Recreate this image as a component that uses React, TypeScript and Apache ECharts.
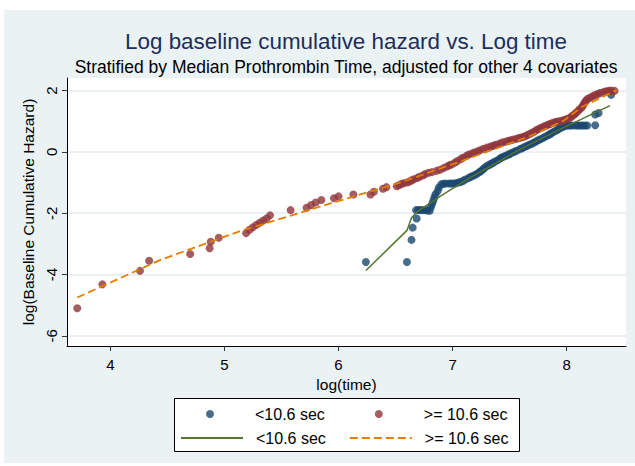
import React, { useEffect, useRef } from "react";
import * as echarts from "echarts";

const FONT = "'Liberation Sans', Arial, sans-serif";

const xTicks = [4, 5, 6, 7, 8];
const yTicks = [-6, -4, -2, 0, 2];

const titleText = "Log baseline cumulative hazard vs. Log time";
const subtitleText = "Stratified by Median Prothrombin Time, adjusted for other 4 covariates";
const xTitle = "log(time)";
const yTitle = "log(Baseline Cumulative Hazard)";

const groupLabels: Record<string, string> = {
  lt_pts: "<10.6 sec",
  ge_pts: ">= 10.6 sec",
  lt_fit: "<10.6 sec",
  ge_fit: ">= 10.6 sec",
};

// observed points, prothrombin < 10.6 sec
const ltPoints: [number, number][] = [
  [6.24, -3.59], [6.60, -3.59], [6.64, -2.87], [6.65, -2.47], [6.685, -2.17],
  [6.68, -1.90], [6.70, -1.90], [6.72, -1.90], [6.74, -1.90], [6.76, -1.90],
  [6.78, -1.91], [6.80, -1.92], [6.81, -1.80], [6.82, -1.70], [6.83, -1.60],
  [6.84, -1.49], [6.85, -1.38], [6.87, -1.27], [6.88, -1.16], [6.90, -1.06],
  [6.92, -1.04], [6.94, -1.03], [6.97, -1.03], [6.99, -1.03], [7.01, -1.03],
  [7.03, -1.02], [7.05, -1.00], [7.07, -0.98], [7.09, -0.95], [7.11, -0.90],
  [7.14, -0.85], [7.16, -0.81], [7.18, -0.78], [7.20, -0.74], [7.22, -0.70],
  [7.24, -0.65], [7.25, -0.62], [7.27, -0.56], [7.28, -0.52], [7.30, -0.46],
  [7.32, -0.43], [7.33, -0.40], [7.35, -0.37], [7.36, -0.34], [7.38, -0.30],
  [7.40, -0.26], [7.42, -0.21], [7.43, -0.18], [7.45, -0.15], [7.47, -0.12],
  [7.49, -0.09], [7.50, -0.07], [7.52, -0.03], [7.54, 0.00], [7.56, 0.04],
  [7.59, 0.09], [7.61, 0.12], [7.63, 0.16], [7.65, 0.19], [7.67, 0.23],
  [7.69, 0.26], [7.71, 0.30], [7.73, 0.34], [7.75, 0.38], [7.77, 0.41],
  [7.79, 0.45], [7.81, 0.49], [7.83, 0.53], [7.85, 0.57], [7.86, 0.60],
  [7.88, 0.64], [7.90, 0.68], [7.92, 0.72], [7.93, 0.75], [7.95, 0.79],
  [7.97, 0.82], [7.99, 0.85], [8.01, 0.86], [8.03, 0.86], [8.05, 0.86],
  [8.08, 0.86], [8.10, 0.86], [8.12, 0.86], [8.14, 0.86], [8.16, 0.86],
  [8.18, 0.86], [8.25, 0.87], [8.25, 1.22], [8.28, 1.27], [8.39, 1.86],
];

// observed points, prothrombin >= 10.6 sec
const gePoints: [number, number][] = [
  [3.71, -5.10], [3.93, -4.32], [4.26, -3.88], [4.34, -3.55], [4.70, -3.33],
  [4.87, -3.14], [4.88, -2.93], [4.95, -2.80], [5.19, -2.65], [5.22, -2.54],
  [5.25, -2.46], [5.28, -2.38], [5.31, -2.31], [5.34, -2.24], [5.37, -2.17],
  [5.40, -2.07], [5.58, -1.90], [5.72, -1.82], [5.76, -1.73], [5.80, -1.65],
  [5.85, -1.57], [5.96, -1.51], [6.00, -1.45], [6.13, -1.39], [6.28, -1.39],
  [6.31, -1.30], [6.39, -1.20], [6.42, -1.15], [6.51, -1.12], [6.53, -1.09],
  [6.55, -1.05], [6.57, -1.02], [6.60, -1.00], [6.62, -0.97], [6.64, -0.93],
  [6.66, -0.89], [6.69, -0.85], [6.71, -0.81], [6.74, -0.77], [6.76, -0.72],
  [6.79, -0.68], [6.82, -0.66], [6.86, -0.62], [6.89, -0.58], [6.92, -0.53],
  [6.95, -0.48], [6.97, -0.44], [6.99, -0.41], [7.02, -0.35], [7.04, -0.30],
  [7.07, -0.24], [7.09, -0.19], [7.12, -0.13], [7.14, -0.09], [7.17, -0.05],
  [7.19, -0.02], [7.22, 0.02], [7.24, 0.05], [7.27, 0.10], [7.30, 0.14],
  [7.33, 0.17], [7.35, 0.19], [7.37, 0.22], [7.39, 0.24], [7.42, 0.28],
  [7.44, 0.31], [7.47, 0.34], [7.49, 0.36], [7.51, 0.38], [7.53, 0.40],
  [7.56, 0.43], [7.58, 0.45], [7.60, 0.47], [7.62, 0.49], [7.64, 0.52],
  [7.66, 0.56], [7.68, 0.59], [7.70, 0.63], [7.72, 0.67], [7.74, 0.72],
  [7.76, 0.76], [7.78, 0.79], [7.80, 0.83], [7.82, 0.86], [7.84, 0.89],
  [7.86, 0.92], [7.88, 0.95], [7.90, 0.97], [7.92, 0.99], [7.94, 1.00],
  [7.96, 1.02], [7.98, 1.04], [8.00, 1.07], [8.02, 1.10], [8.04, 1.14],
  [8.05, 1.18], [8.07, 1.23], [8.08, 1.27], [8.10, 1.33], [8.11, 1.38],
  [8.13, 1.44], [8.14, 1.50], [8.15, 1.56], [8.16, 1.62], [8.17, 1.67],
  [8.18, 1.72], [8.20, 1.76], [8.22, 1.80], [8.24, 1.84], [8.26, 1.87],
  [8.28, 1.90], [8.30, 1.93], [8.33, 1.96], [8.35, 1.98], [8.37, 1.99],
  [8.39, 2.00], [8.42, 1.99],
];

// fitted (predicted) curves
const ltFit: [number, number][] = [
  [6.24, -3.87], [6.60, -2.56], [6.64, -2.15], [6.69, -1.95], [6.89, -1.45],
  [7.15, -0.85], [7.59, 0.08], [7.90, 0.66], [8.38, 1.51],
];

const geFit: [number, number][] = [
  [3.71, -4.75], [4.44, -3.52], [5.14, -2.58], [5.93, -1.68], [6.54, -1.00],
  [7.04, -0.35], [7.68, 0.52], [7.97, 1.01], [8.14, 1.48], [8.44, 2.02],
];

const COLORS = {
  bg: "#eaf2f3",
  navy: "#1a476f",
  maroon: "#90353b",
  green: "#55752f",
  orange: "#e37e00",
  grid: "#e3ecef",
  title: "#1e2d5c",
};

export default function App() {
  const ref = useRef<HTMLDivElement>(null);

  useEffect(() => {
    if (!ref.current) return;
    const chart = echarts.init(ref.current, undefined, { renderer: "svg" });
    const fmt = (name: string) => groupLabels[name] ?? name;
    const textStyle = { fontFamily: FONT, fontSize: 16, color: "#000" };
    chart.setOption({
      animation: false,
      backgroundColor: COLORS.bg,
      grid: {
        left: 67,
        right: 9,
        top: 78,
        bottom: 120,
        show: true,
        backgroundColor: "#ffffff",
        borderWidth: 0,
      },
      xAxis: {
        type: "value",
        min: 3.62,
        max: 8.52,
        name: xTitle,
        nameLocation: "middle",
        nameGap: 29,
        nameTextStyle: { fontFamily: FONT, fontSize: 15.5, color: "#000" },
        axisLine: { show: true, onZero: false, lineStyle: { color: "#000", width: 1 } },
        axisTick: { show: true, length: 5, customValues: xTicks, lineStyle: { color: "#333" } },
        axisLabel: { customValues: xTicks, margin: 11, fontFamily: FONT, fontSize: 15, color: "#000" },
        splitLine: { show: false },
      },
      yAxis: {
        type: "value",
        min: -6.33,
        max: 2.41,
        name: yTitle,
        nameLocation: "middle",
        nameRotate: 90,
        nameGap: 26,
        nameTextStyle: { fontFamily: FONT, fontSize: 15.5, color: "#000" },
        axisLine: { show: true, onZero: false, lineStyle: { color: "#000", width: 1 } },
        axisTick: { show: true, length: 5, customValues: yTicks, lineStyle: { color: "#333" } },
        axisLabel: { customValues: yTicks, rotate: 90, margin: 8, fontFamily: FONT, fontSize: 15, color: "#000" },
        splitLine: { show: true, lineStyle: { color: COLORS.grid, width: 1.5 } },
      },
      legend: [
        {
          left: 206,
          top: 406,
          icon: "circle",
          itemWidth: 8,
          itemHeight: 8,
          itemGap: 50,
          padding: 0,
          selectedMode: false,
          formatter: fmt,
          textStyle: { ...textStyle, padding: [0, 0, 0, 36] },
          data: ["lt_pts", "ge_pts"],
        },
        {
          left: 180,
          top: 430,
          itemWidth: 62,
          itemHeight: 8,
          itemGap: 23,
          padding: 0,
          selectedMode: false,
          formatter: fmt,
          itemStyle: { opacity: 0 },
          textStyle: { ...textStyle, padding: [0, 0, 0, 8] },
          data: ["lt_fit", "ge_fit"],
        },
      ],
      graphic: [
        { type: "rect", z: 100, shape: { x: 0, y: 0, width: 635, height: 10 }, style: { fill: "#fff" } },
        { type: "rect", z: 100, shape: { x: 0, y: 0, width: 4, height: 466 }, style: { fill: "#fff" } },
        { type: "rect", z: 100, shape: { x: 0, y: 463, width: 635, height: 3 }, style: { fill: "#fff" } },
        {
          type: "rect",
          z: 1,
          shape: { x: 174.5, y: 398.5, width: 345, height: 53 },
          style: { fill: "#fff", stroke: "#000", lineWidth: 1 },
        },
        {
          type: "text",
          z: 5,
          x: 346,
          y: 41,
          style: {
            text: titleText,
            fontFamily: FONT,
            fontSize: 22.4,
            fill: COLORS.title,
            textAlign: "center",
            align: "center",
            textVerticalAlign: "middle",
            verticalAlign: "middle",
          },
        },
        {
          type: "text",
          z: 5,
          x: 346,
          y: 67,
          style: {
            text: subtitleText,
            fontFamily: FONT,
            fontSize: 17.5,
            fill: "#000",
            textAlign: "center",
            align: "center",
            textVerticalAlign: "middle",
            verticalAlign: "middle",
          },
        },
      ],
      series: [
        {
          name: "lt_pts",
          type: "scatter",
          data: ltPoints,
          symbol: "circle",
          symbolSize: 8,
          itemStyle: { color: COLORS.navy },
          z: 2,
        },
        {
          name: "ge_pts",
          type: "scatter",
          data: gePoints,
          symbol: "circle",
          symbolSize: 8,
          itemStyle: { color: COLORS.maroon },
          z: 3,
        },
        {
          name: "lt_fit",
          type: "line",
          data: ltFit,
          symbol: "none",
          showSymbol: false,
          lineStyle: { color: COLORS.green, width: 1.5 },
          itemStyle: { color: COLORS.green },
          z: 4,
        },
        {
          name: "ge_fit",
          type: "line",
          data: geFit,
          symbol: "none",
          showSymbol: false,
          lineStyle: { color: COLORS.orange, width: 1.8, type: [8, 4] },
          itemStyle: { color: COLORS.orange },
          z: 5,
        },
      ],
    });
    return () => chart.dispose();
  }, []);

  return (
    <div
      ref={ref}
      style={{ position: "fixed", left: 0, top: 0, width: 635, height: 466 }}
    />
  );
}
